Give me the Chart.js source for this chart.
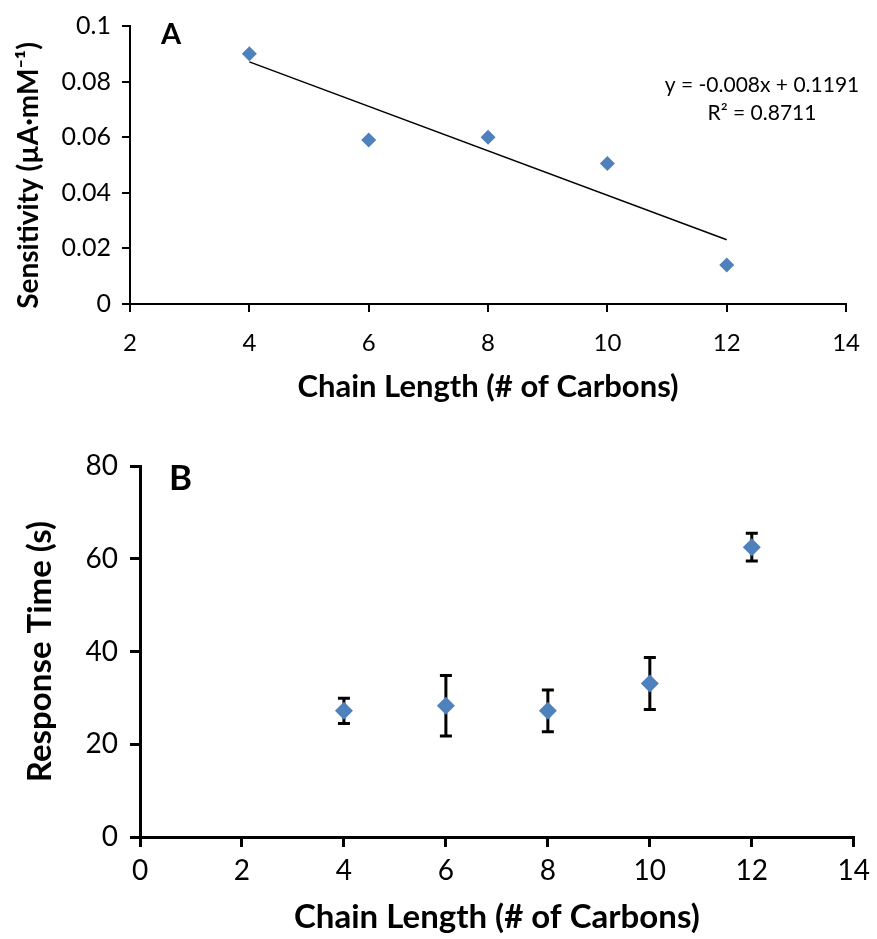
<!DOCTYPE html>
<html><head><meta charset="utf-8">
<script src="https://cdn.jsdelivr.net/npm/chart.js@4"></script>
<style>
html,body{margin:0;padding:0;background:#fff;}
#wrapA{position:absolute;left:0;top:0;width:877px;height:420px;}
#wrapB{position:absolute;left:0;top:430px;width:877px;height:509px;}
</style></head><body>
<div id="wrapA"><canvas id="cA"></canvas></div>
<div id="wrapB"><canvas id="cB"></canvas></div>
<script>
// ---- Panel A data ----
const chainLengthA = [4, 6, 8, 10, 12];
const sensitivity = [0.090, 0.059, 0.060, 0.0505, 0.014];
const trendX = [4, 12];
const trendY = [0.0871, 0.0231];
const equationLines = ['y = -0.008x + 0.1191', 'R\u00B2 = 0.8711'];
const xTicksA = [2, 4, 6, 8, 10, 12, 14];
const yTicksA = [0, 0.02, 0.04, 0.06, 0.08, 0.1];
const yTickLabelsA = ['0', '0.02', '0.04', '0.06', '0.08', '0.1'];
// ---- Panel B data ----
const chainLengthB = [4, 6, 8, 10, 12];
const responseTime = [27.2, 28.3, 27.2, 33.1, 62.5];
const responseErr = [2.7, 6.5, 4.5, 5.6, 3.0];
const xTicksB = [0, 2, 4, 6, 8, 10, 12, 14];
const yTicksB = [0, 20, 40, 60, 80];

const BLUE = '#4F81BD';
const FONT = 'Lato';

function setTicks(arr) {
  return function (scale) { scale.ticks = arr.map(v => ({ value: v })); };
}

const panelLabel = {
  id: 'panelLabel',
  afterDraw(chart, args, opts) {
    const ctx = chart.ctx;
    ctx.save();
    ctx.font = 'bold ' + opts.size + 'px ' + FONT;
    ctx.fillStyle = '#000';
    ctx.textBaseline = 'alphabetic';
    ctx.textAlign = 'left';
    ctx.fillText(opts.text, opts.x, opts.y);
    ctx.restore();
  }
};

const equationPlugin = {
  id: 'equationText',
  afterDraw(chart, args, opts) {
    if (!opts.lines) return;
    const ctx = chart.ctx;
    ctx.save();
    ctx.font = opts.size + 'px ' + FONT;
    ctx.fillStyle = '#000';
    ctx.textAlign = 'center';
    ctx.textBaseline = 'middle';
    opts.lines.forEach((t, i) => ctx.fillText(t, opts.x, opts.y + i * opts.gap));
    ctx.restore();
  }
};

const errorBars = {
  id: 'errorBars',
  beforeDatasetsDraw(chart, args, opts) {
    if (!opts.errors) return;
    const xs = chart.scales.x, ys = chart.scales.y;
    const ctx = chart.ctx;
    ctx.save();
    ctx.strokeStyle = '#000';
    ctx.lineWidth = opts.width;
    opts.xs.forEach((xv, i) => {
      const px = xs.getPixelForValue(xv);
      const top = ys.getPixelForValue(opts.ys[i] + opts.errors[i]);
      const bot = ys.getPixelForValue(opts.ys[i] - opts.errors[i]);
      ctx.beginPath();
      ctx.moveTo(px, top); ctx.lineTo(px, bot);
      ctx.moveTo(px - opts.cap, top); ctx.lineTo(px + opts.cap, top);
      ctx.moveTo(px - opts.cap, bot); ctx.lineTo(px + opts.cap, bot);
      ctx.stroke();
    });
    ctx.restore();
  }
};

// ---------- Chart A ----------
new Chart(document.getElementById('cA'), {
  type: 'scatter',
  data: {
    datasets: [
      {
        data: chainLengthA.map((x, i) => ({ x: x, y: sensitivity[i] })),
        pointStyle: 'rectRot', pointRadius: 7.5, pointHoverRadius: 7.5,
        backgroundColor: BLUE, borderColor: BLUE, borderWidth: 0, order: 0
      },
      {
        type: 'line',
        data: trendX.map((x, i) => ({ x: x, y: trendY[i] })),
        borderColor: '#000', borderWidth: 1.5, pointRadius: 0, fill: false, order: 1
      }
    ]
  },
  options: {
    responsive: true, maintainAspectRatio: false, animation: false,
    layout: { padding: { left: 0, right: 19, top: 25, bottom: 0 } },
    plugins: {
      legend: { display: false }, tooltip: { enabled: false },
      panelLabel: { text: 'A', size: 29, x: 161, y: 44 },
      equationText: { lines: equationLines, size: 21, x: 762, y: 85, gap: 28 }
    },
    scales: {
      x: {
        type: 'linear', min: 2, max: 14,
        afterBuildTicks: setTicks(xTicksA),
        afterFit: s => { s.height = 116; },
        ticks: { font: { family: FONT, size: 24 }, color: '#000', padding: 17 },
        grid: { drawOnChartArea: false, drawTicks: true, tickLength: 8, color: '#000', lineWidth: 2 },
        border: { display: true, color: '#000', width: 2 },
        title: { display: true, text: 'Chain Length (# of Carbons)', color: '#000',
          font: { family: FONT, size: 31, weight: 'bold' }, padding: { top: 0, bottom: 14 } }
      },
      y: {
        type: 'linear', min: 0, max: 0.1,
        afterBuildTicks: setTicks(yTicksA),
        afterFit: s => { s.width = 130; },
        ticks: { font: { family: FONT, size: 25 }, color: '#000', padding: 11,
          callback: (v, i) => yTickLabelsA[i] },
        grid: { drawOnChartArea: false, drawTicks: true, tickLength: 8, color: '#000', lineWidth: 2 },
        border: { display: true, color: '#000', width: 2 },
        title: { display: true, text: 'Sensitivity (\u00B5A\u00B7mM\u207B\u00B9)\u2003', color: '#000',
          font: { family: FONT, size: 28, weight: 'bold' }, padding: { top: 12, bottom: 0 } }
      }
    }
  },
  plugins: [panelLabel, equationPlugin]
});

// ---------- Chart B ----------
new Chart(document.getElementById('cB'), {
  type: 'scatter',
  data: {
    datasets: [
      {
        data: chainLengthB.map((x, i) => ({ x: x, y: responseTime[i] })),
        pointStyle: 'rectRot', pointRadius: 9, pointHoverRadius: 9,
        backgroundColor: BLUE, borderColor: BLUE, borderWidth: 0
      }
    ]
  },
  options: {
    responsive: true, maintainAspectRatio: false, animation: false,
    layout: { padding: { left: 0, right: 15, top: 36, bottom: 0 } },
    plugins: {
      legend: { display: false }, tooltip: { enabled: false },
      panelLabel: { text: 'B', size: 35, x: 169, y: 60 },
      errorBars: { xs: chainLengthB, ys: responseTime, errors: responseErr, width: 3, cap: 6 }
    },
    scales: {
      x: {
        type: 'linear', min: 0, max: 14,
        afterBuildTicks: setTicks(xTicksB),
        afterFit: s => { s.height = 102; },
        ticks: { font: { family: FONT, size: 28 }, color: '#000', padding: 7 },
        grid: { drawOnChartArea: false, drawTicks: true, tickLength: 10, color: '#000', lineWidth: 3 },
        border: { display: true, color: '#000', width: 3 },
        title: { display: true, text: 'Chain Length (# of Carbons)', color: '#000',
          font: { family: FONT, size: 33, weight: 'bold' }, padding: { top: 0, bottom: 2 } }
      },
      y: {
        type: 'linear', min: 0, max: 80,
        afterBuildTicks: setTicks(yTicksB),
        afterFit: s => { s.width = 140; },
        ticks: { font: { family: FONT, size: 28 }, color: '#000', padding: 12 },
        grid: { drawOnChartArea: false, drawTicks: true, tickLength: 10, color: '#000', lineWidth: 3 },
        border: { display: true, color: '#000', width: 3 },
        title: { display: true, text: 'Response Time (s)', color: '#000',
          font: { family: FONT, size: 33, weight: 'bold' }, padding: { top: 21, bottom: 0 } }
      }
    }
  },
  plugins: [panelLabel, errorBars]
});
</script>
</body></html>
